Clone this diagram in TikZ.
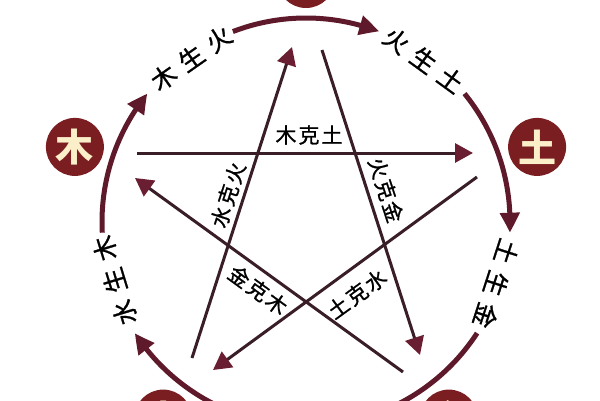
\documentclass[tikz,border=0pt]{standalone}
\usepackage{fontspec}
\newfontfamily\cjk[FakeBold=1]{Noto Sans CJK SC}
\newfontfamily\cjkb{Noto Sans CJK SC}
\usetikzlibrary{arrows.meta,bending,calc}
\definecolor{maroon}{HTML}{5E1A2B}
\definecolor{elfill}{HTML}{7A1E22}
\definecolor{cream}{HTML}{FBEFC9}
\definecolor{starline}{HTML}{3A1E27}
\definecolor{tipcol}{HTML}{6A1E31}
\begin{document}
\begin{tikzpicture}[x=1pt,y=1pt,
  element/.style={circle,fill=elfill,minimum size=58pt,inner sep=0pt,text=cream,font=\cjkb\bfseries\fontsize{38}{38}\selectfont},
  shengarc/.style={draw=maroon,line width=5pt,-{Triangle[length=20pt,width=19pt,bend]}},
  kearrow/.style={draw=starline,line width=3pt,-{Triangle[length=18pt,width=19pt,color=tipcol]}},
  shenglabel/.style={font=\cjk\fontsize{25}{25}\selectfont,text=black,inner sep=0pt},
  kelabel/.style={font=\cjk\fontsize{21}{21}\selectfont,text=black,inner sep=0pt}]
\clip (0,0) rectangle (600,400);
\fill[white] (0,0) rectangle (600,400);
\coordinate (O) at (306,178);
% element circles
\node[element] (huo) at ($(O)+(90:243)$) {火};
\node[element] (tu)  at ($(O)+(18:243)$) {土};
\node[element] (jin) at ($(O)+(-54:243)$) {金};
\node[element] (shui) at ($(O)+(-126:243)$) {水};
\node[element] (mu)  at ($(O)+(162:243)$) {木};
% generating arcs
\draw[shengarc] ($(O)+(183:204)$) coordinate (a1) arc[start angle=183,end angle=141,radius=204];
\draw[shengarc] ($(O)+(111:204)$) coordinate (a2) arc[start angle=111,end angle=69,radius=204];
\draw[shengarc] ($(O)+(39:204)$) coordinate (a3) arc[start angle=39,end angle=-3,radius=204];
\draw[shengarc] ($(O)+(-33:204)$) coordinate (a4) arc[start angle=-33,end angle=-75,radius=204];
\draw[shengarc] ($(O)+(-105:204)$) coordinate (a5) arc[start angle=-105,end angle=-147,radius=204];
% generating labels
\node[shenglabel,rotate=35] (l1) at ($(O)+(125:200)$) {木\hspace{8.5pt}生\hspace{8.5pt}火};
\node[shenglabel,rotate=-36] (l2) at ($(O)+(54:200)$) {火\hspace{8.5pt}生\hspace{8.5pt}土};
\node[shenglabel,rotate=-108] (l3) at ($(O)+(-18:200)$) {土\hspace{8.5pt}生\hspace{8.5pt}金};
\node[shenglabel,rotate=107] (l5) at ($(O)+(197:200)$) {水\hspace{8.5pt}生\hspace{8.5pt}木};
% controlling star
\coordinate (k1s) at (137,247); \coordinate (k1e) at (473,247);
\coordinate (k2s) at (192,42);  \coordinate (k2e) at (292,353);
\coordinate (k3s) at (322,350); \coordinate (k3e) at (420,45);
\coordinate (k4s) at (403,28);  \coordinate (k4e) at (135,222);
\coordinate (k5s) at (477,223); \coordinate (k5e) at (213,30);
\draw[kearrow] (k1s) -- (k1e);
\draw[kearrow] (k2s) -- (k2e);
\draw[kearrow] (k3s) -- (k3e);
\draw[kearrow] (k4s) -- (k4e);
\draw[kearrow] (k5s) -- (k5e);
\node[kelabel] (m1) at (309,265) {木\hspace{2pt}克\hspace{2pt}土};
\node[kelabel,rotate=72] (m2) at (228,205) {水\hspace{2pt}克\hspace{2pt}火};
\node[kelabel,rotate=-72] (m3) at (386,210) {火\hspace{2pt}克\hspace{2pt}金};
\node[kelabel,rotate=-36] (m4) at (258,110) {金\hspace{2pt}克\hspace{2pt}木};
\node[kelabel,rotate=36] (m5) at (357,106) {土\hspace{2pt}克\hspace{2pt}水};
\end{tikzpicture}
\end{document}
